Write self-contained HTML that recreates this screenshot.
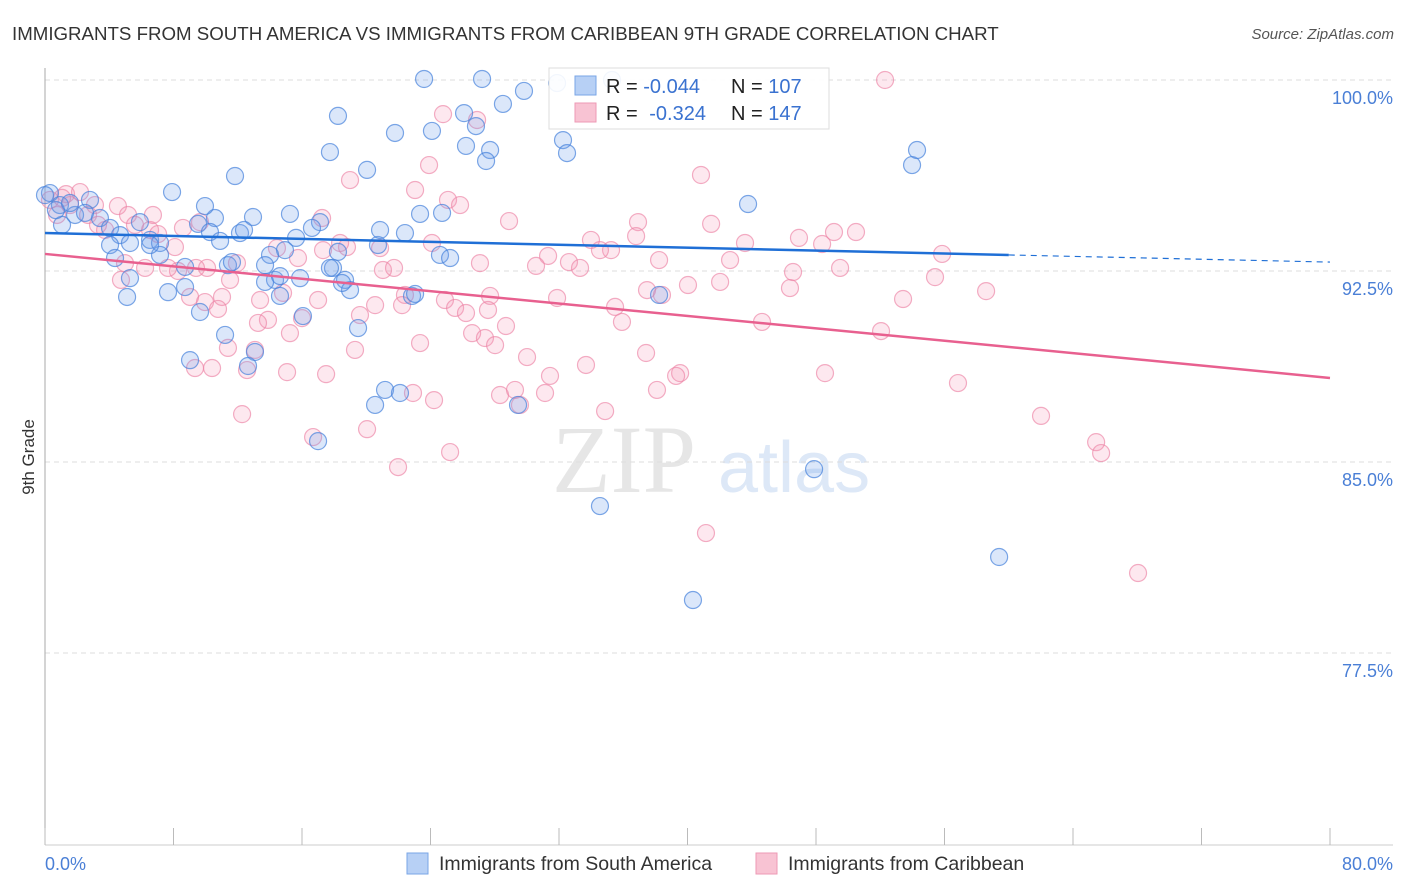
<!DOCTYPE html>
<html><head><meta charset="utf-8"><style>
body{margin:0;background:#fff;font-family:"Liberation Sans",sans-serif;}
#wrap{position:relative;width:1406px;height:892px;overflow:hidden}
</style></head><body>
<div id="wrap">
<svg id="svg" width="1406" height="892" xmlns="http://www.w3.org/2000/svg">
<text x="12" y="40" font-size="18.7" fill="#333">IMMIGRANTS FROM SOUTH AMERICA VS IMMIGRANTS FROM CARIBBEAN 9TH GRADE CORRELATION CHART</text>
<text x="1394" y="39" font-size="15" fill="#555" font-style="italic" text-anchor="end">Source: ZipAtlas.com</text>
<text x="34" y="457" font-size="17" fill="#333" text-anchor="middle" transform="rotate(-90 34 457)">9th Grade</text>
<g><text x="552" y="492" font-size="96" fill="#e6e6e6" font-family="Liberation Serif,serif">ZIP</text><text x="718" y="492" font-size="72" fill="#dde8f7">atlas</text></g>
<g id="grid"></g><g id="axes"></g><g id="pts"></g><g id="trend"></g>
<g>
<rect x="549" y="68" width="280" height="61" fill="#fff" fill-opacity="0.9" stroke="#ddd"/>
<rect x="575" y="76" width="21" height="19" fill="#b7d0f5" stroke="#7aa6e6"/>
<text x="606" y="93" font-size="20" fill="#222">R = <tspan fill="#3a72d0">-0.044</tspan></text>
<text x="731" y="93" font-size="20" fill="#222">N = <tspan fill="#3a72d0">107</tspan></text>
<rect x="575" y="103" width="21" height="19" fill="#f8c3d3" stroke="#ee9ab4"/>
<text x="606" y="120" font-size="20" fill="#222">R = <tspan fill="#3a72d0" dx="6">-0.324</tspan></text>
<text x="731" y="120" font-size="20" fill="#222">N = <tspan fill="#3a72d0">147</tspan></text>
</g>
<g>
<rect x="407" y="853" width="21" height="21" fill="#b7d0f5" stroke="#7aa6e6"/>
<text x="439" y="870" font-size="19.5" fill="#333">Immigrants from South America</text>
<rect x="756" y="853" width="21" height="21" fill="#f8c3d3" stroke="#ee9ab4"/>
<text x="788" y="870" font-size="19.5" fill="#333">Immigrants from Caribbean</text>
</g>
</svg>
<script>
const yTicks=[100,92.5,85,77.5];
const yTickLabels=["100.0%","92.5%","85.0%","77.5%"];
const xTickVals=[0,8,16,24,32,40,48,56,64,72,80];
const xEndLabels=["0.0%","80.0%"];
const blueX=[23.60,27.21,31.88,35.30,29.82,28.51,18.24,26.09,26.83,24.09,21.79,26.21,27.71,27.46,17.74,32.25,32.50,20.05,11.83,7.91,0.31,0.93,2.80,1.87,3.42,1.06,4.05,4.67,5.91,6.54,7.16,5.29,4.05,4.36,7.16,8.72,10.58,9.96,9.53,10.27,10.90,12.14,12.95,12.39,15.25,15.63,14.94,14.01,15.88,14.32,13.70,14.63,8.72,7.66,9.65,11.21,13.07,12.64,9.03,5.11,5.29,17.12,16.62,18.24,17.93,18.68,18.99,18.49,20.73,20.86,22.41,23.35,24.72,24.59,25.22,22.85,23.04,19.49,16.06,21.17,22.10,20.55,17.00,29.45,34.55,40.34,38.23,43.77,47.88,59.40,53.98,54.29,14.63,13.70,11.39,11.64,17.74,6.54,0.68,0,1.56,2.49];
const blueY=[100.04,100.04,99.88,100.00,99.57,99.06,98.59,98.70,98.19,98.00,97.92,97.41,97.25,96.82,97.17,97.64,97.13,96.47,96.23,95.60,95.56,95.09,95.29,94.70,94.58,94.31,94.19,93.91,94.42,93.72,93.60,93.60,93.52,93.01,93.13,92.66,94.58,95.05,94.35,94.03,93.68,93.99,94.62,94.11,94.74,93.80,93.32,93.13,92.22,92.15,92.07,91.52,91.87,91.67,90.89,89.99,89.32,88.77,89.00,91.48,92.22,94.42,94.19,93.25,92.62,92.15,91.75,92.03,93.52,94.11,93.99,94.74,94.78,93.13,93.01,91.52,91.60,90.26,90.73,87.83,87.71,87.24,85.82,87.24,83.27,79.58,91.56,95.13,84.72,81.27,96.66,97.25,92.30,92.73,92.73,92.85,92.62,93.52,94.89,95.48,95.17,94.78];
const pinkX=[52.30,24.78,26.90,23.91,40.84,18.99,23.04,25.09,25.84,28.89,17.25,36.92,41.47,36.80,46.94,48.38,49.12,50.49,43.58,33.99,35.24,31.32,32.62,33.31,30.57,27.08,24.09,20.86,18.80,18.37,17.31,15.75,14.44,11.95,10.09,9.40,8.28,7.66,4.98,4.73,6.23,11.52,9.03,9.96,11.02,10.77,13.39,13.88,13.26,14.82,16.00,17.00,15.25,19.61,20.55,21.04,21.73,22.41,22.23,24.90,25.53,26.21,27.71,27.58,26.59,27.39,28.70,28.02,30.01,31.88,35.49,35.92,37.48,38.41,40.03,42.03,44.64,46.38,46.57,49.50,53.42,55.41,55.85,58.59,52.05,38.23,42.65,34.55,29.57,31.44,28.33,29.26,31.13,33.68,37.42,39.54,39.29,38.10,34.87,25.22,21.98,16.69,20.05,12.27,9.34,10.40,12.58,13.07,11.39,15.07,17.50,19.30,22.91,23.35,24.22,48.56,56.84,62.01,65.44,65.75,68.05,41.15,0.31,0.75,1.31,2.18,3.11,1.56,4.54,5.17,5.60,6.54,7.04,6.72,8.09,8.59,9.65,3.74,2.68,3.30,1.06];
const pinkY=[100.00,98.66,98.43,96.66,96.27,96.07,95.68,95.29,95.09,94.46,94.58,94.42,94.35,93.87,93.80,93.56,94.03,94.03,93.60,93.72,93.32,93.09,92.85,92.62,92.70,92.81,93.60,93.40,93.44,93.60,93.32,93.01,93.40,92.81,92.62,92.62,92.50,92.62,92.81,92.15,92.62,92.15,91.48,91.28,91.48,91.01,91.36,90.58,90.46,91.64,90.65,91.36,90.06,90.77,91.16,92.54,92.62,91.56,91.16,91.36,91.05,90.85,91.52,90.97,90.06,89.87,90.34,89.59,89.12,91.44,91.09,90.50,91.75,91.56,91.95,92.07,90.50,91.83,92.46,92.62,91.40,92.26,93.17,91.71,90.14,92.93,92.93,93.32,87.24,88.38,87.63,87.83,87.71,88.81,89.28,88.49,88.38,87.83,87.00,85.39,84.80,85.98,86.29,86.88,88.69,88.69,88.61,89.40,89.48,88.53,88.45,89.40,87.71,89.67,87.43,88.49,88.10,86.81,85.78,85.35,80.64,82.21,95.29,94.70,95.52,95.60,95.09,95.09,95.05,94.70,94.31,94.11,93.95,94.70,93.44,94.19,94.42,94.11,94.70,94.31,95.37];
const blueTrendX=[0,60,80], blueTrendY=[93.99,93.13,92.85];
const pinkTrendX=[0,80], pinkTrendY=[93.17,88.30];

const NS="http://www.w3.org/2000/svg";
function sx(v){return 45+v/80*1285;}
function sy(v){return 80+(100-v)/7.5*191;}
function mk(tag,attrs,parent){const e=document.createElementNS(NS,tag);for(const k in attrs)e.setAttribute(k,attrs[k]);parent.appendChild(e);return e;}
const grid=document.getElementById('grid'),axes=document.getElementById('axes'),pts=document.getElementById('pts'),trend=document.getElementById('trend');
yTicks.forEach((t,i)=>{
  const l=mk('line',{x1:45,x2:1393,y1:sy(t),y2:sy(t),stroke:'#ddd','stroke-dasharray':'5,4'},grid);
  
  
  const tx=mk('text',{x:1393,y:sy(t)+24,'font-size':18,fill:'#4a7fd6','text-anchor':'end'},axes);
  tx.textContent=yTickLabels[i];
  
  
});
const ya=mk('line',{x1:45,x2:45,y1:68,y2:845,stroke:'#aaa'},axes);


const xa=mk('line',{x1:45,x2:1393,y1:845,y2:845,stroke:'#ccc'},axes);


xTickVals.forEach(v=>{
  const t=mk('line',{x1:sx(v),x2:sx(v),y1:828,y2:845,stroke:'#bbb'},axes);
  
  
});
const xl0=mk('text',{x:45,y:870,'font-size':18,fill:'#4a7fd6'},axes);xl0.textContent=xEndLabels[0];


const xl1=mk('text',{x:1393,y:870,'font-size':18,fill:'#4a7fd6','text-anchor':'end'},axes);xl1.textContent=xEndLabels[1];


pinkX.forEach((x,i)=>{
  const c=mk('circle',{cx:sx(x),cy:sy(pinkY[i]),r:8.5,fill:'rgba(244,150,180,0.22)',stroke:'rgba(236,130,165,0.65)','stroke-width':1.2},pts);
  
  
});
blueX.forEach((x,i)=>{
  const c=mk('circle',{cx:sx(x),cy:sy(blueY[i]),r:8.5,fill:'rgba(110,160,235,0.25)',stroke:'rgba(70,130,220,0.7)','stroke-width':1.2},pts);
  
  
});
const b1=mk('line',{x1:sx(blueTrendX[0]),y1:sy(blueTrendY[0]),x2:sx(blueTrendX[1]),y2:sy(blueTrendY[1]),stroke:'#1f6fd6','stroke-width':2.5},trend);


const b2=mk('line',{x1:sx(blueTrendX[1]),y1:sy(blueTrendY[1]),x2:sx(blueTrendX[2]),y2:sy(blueTrendY[2]),stroke:'#1f6fd6','stroke-width':1.2,'stroke-dasharray':'6,5'},trend);


const p1=mk('line',{x1:sx(pinkTrendX[0]),y1:sy(pinkTrendY[0]),x2:sx(pinkTrendX[1]),y2:sy(pinkTrendY[1]),stroke:'#e8608f','stroke-width':2.5},trend);


</script>
</div>
</body></html>
